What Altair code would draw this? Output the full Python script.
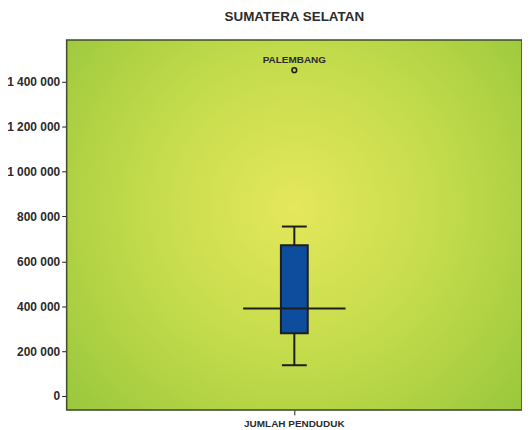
import altair as alt
import pandas as pd

# ---- data ----
categories = ["JUMLAH PENDUDUK"]
whisker_low = [137000]
q1 = [279000]
median = [390000]
q3 = [672000]
whisker_high = [755000]
outlier_values = [1452000]
outlier_labels = ["PALEMBANG"]
y_ticks = [0, 200000, 400000, 600000, 800000, 1000000, 1200000, 1400000]

W, H = 458, 372
FONT = "Liberation Sans"
TXT = "#2b2b2b"
DARK = "#1e1e1e"

box_df = pd.DataFrame({
    "cat": categories, "lo": whisker_low, "q1": q1, "med": median,
    "q3": q3, "hi": whisker_high,
})
out_df = pd.DataFrame({"cat": categories * len(outlier_values),
                       "v": outlier_values, "label": outlier_labels})

yscale = alt.Scale(domain=[-62000, 1586000], nice=False, zero=False)
xenc = alt.X("cat:N", title=None,
             axis=alt.Axis(labelAngle=0, domain=False, ticks=True, tickSize=5,
                           tickColor=DARK, tickWidth=1, labelFont=FONT,
                           labelFontSize=10, labelFontWeight="bold",
                           labelColor=TXT, labelPadding=4))
yaxis = alt.Axis(values=y_ticks, grid=False, domain=False, tickSize=5,
                 tickColor=DARK, tickWidth=1, labelFont=FONT, labelFontSize=12,
                 labelFontWeight="bold", labelColor=TXT, labelPadding=2,
                 labelExpr="replace(format(datum.value, ','), regexp(',', 'g'), ' ')",
                 title=None)

grad = alt.RadialGradient(
    gradient="radial",
    stops=[alt.GradientStop(offset=0, color="#e5e75c"),
           alt.GradientStop(offset=0.45, color="#c4dc4b"),
           alt.GradientStop(offset=1, color="#93c43a")],
    x1=0.5, y1=0.46, r1=0, x2=0.5, y2=0.46, r2=0.72,
)

bg = alt.Chart(box_df).mark_rect(fill=grad, stroke="#3f4c2c", strokeWidth=1.5).encode(
    x=alt.value(0), x2=alt.value(W), y=alt.value(0), y2=alt.value(H)
)

base = alt.Chart(box_df)
whisk = base.mark_rule(color=DARK, strokeWidth=2).encode(
    x=xenc, y=alt.Y("lo:Q", scale=yscale, axis=yaxis), y2="hi:Q")
caps_lo = base.mark_tick(color=DARK, size=25, thickness=2, opacity=1).encode(
    x="cat:N", y=alt.Y("lo:Q", scale=yscale))
caps_hi = base.mark_tick(color=DARK, size=25, thickness=2, opacity=1).encode(
    x="cat:N", y=alt.Y("hi:Q", scale=yscale))
box = base.mark_bar(size=27, fill="#0e4c9e", stroke="#1e1e1e", strokeWidth=2,
                    opacity=1).encode(
    x="cat:N", y=alt.Y("q1:Q", scale=yscale), y2="q3:Q")
med = base.mark_tick(color=DARK, size=103, thickness=2, opacity=1).encode(
    x="cat:N", y=alt.Y("med:Q", scale=yscale))

outl = alt.Chart(out_df).mark_point(shape="circle", filled=False, size=22,
                                    stroke=DARK, strokeWidth=1.6, opacity=1).encode(
    x="cat:N", y=alt.Y("v:Q", scale=yscale))
outl_txt = alt.Chart(out_df).mark_text(dy=-10, font=FONT, fontSize=10,
                                       fontWeight="bold", color=TXT).encode(
    x="cat:N", y=alt.Y("v:Q", scale=yscale), text="label:N")

chart = alt.layer(bg, whisk, box, med, caps_lo, caps_hi, outl, outl_txt).properties(
    width=W, height=H,
    title=alt.TitleParams("SUMATERA SELATAN", font=FONT, fontSize=13.5,
                          fontWeight="bold", color=TXT, anchor="middle",
                          offset=16),
    autosize=alt.AutoSizeParams(type="none"),
    padding={"left": 59, "top": 31, "right": 0, "bottom": 22},
).configure_view(stroke=None).configure(background="white")

chart.save("out.html", embed_options={"renderer": "svg", "actions": False})
